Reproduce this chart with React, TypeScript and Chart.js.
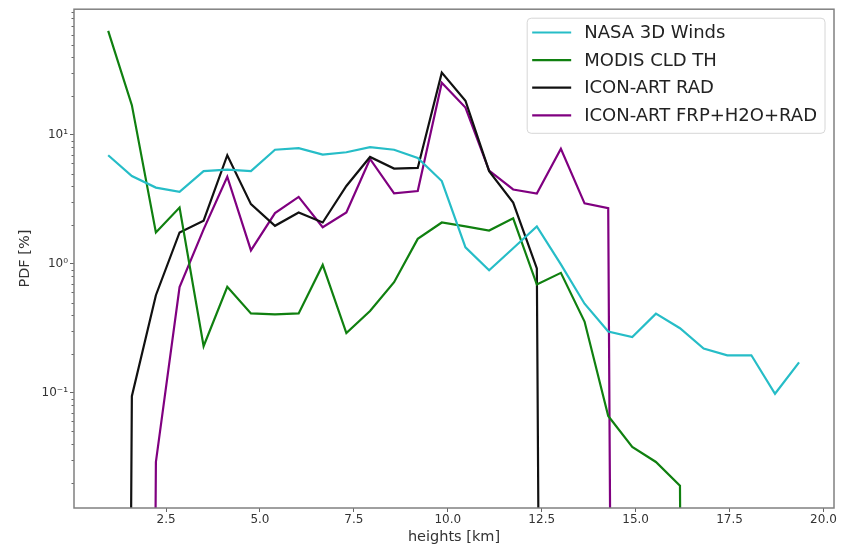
import { useEffect, useRef } from 'react';
import { Chart, registerables } from 'chart.js';

Chart.register(...registerables);

// bin centres (km)
const heights = [
  0.96, 1.59, 2.23, 2.86, 3.5, 4.13, 4.76, 5.4, 6.03, 6.67,
  7.3, 7.93, 8.57, 9.2, 9.84, 10.47, 11.1, 11.74, 12.37, 13.01,
  13.64, 14.27, 14.91, 15.54, 16.18, 16.81, 17.44, 18.08, 18.71, 19.35,
];

const nasa3dWinds = [
  6.95, 4.8, 3.9, 3.62, 5.23, 5.38, 5.23, 7.67, 7.9, 7.02,
  7.33, 8.04, 7.67, 6.62, 4.38, 1.34, 0.89, 1.32, 1.95, 0.99,
  0.49, 0.298, 0.27, 0.41, 0.316, 0.22, 0.195, 0.195, 0.098, 0.172,
];

const modisCldTh = [
  64, 17.0, 1.75, 2.73, 0.229, 0.662, 0.412, 0.405, 0.412, 0.98,
  0.29, 0.43, 0.72, 1.56, 2.09, 1.95, 1.81, 2.25, 0.69, 0.85,
  0.356, 0.066, 0.038, 0.029, 0.019, 0, 0, 0, 0, 0,
];

const iconArtRad = [
  0, 0.094, 0.57, 1.75, 2.16, 6.95, 2.9, 1.97, 2.5, 2.09,
  4.01, 6.74, 5.48, 5.54, 30.4, 18.4, 5.23, 2.98, 0.92, 0,
  0, 0, 0, 0, 0, 0, 0, 0, 0, 0,
];

const iconArtFrpH2oRad = [
  0, 0, 0.029, 0.66, 1.85, 4.73, 1.27, 2.47, 3.3, 1.92,
  2.5, 6.5, 3.52, 3.67, 25.4, 16.3, 5.28, 3.77, 3.5, 7.8,
  2.94, 2.7, 0, 0, 0, 0, 0, 0, 0, 0,
];

const seriesLabels = ['NASA 3D Winds', 'MODIS CLD TH', 'ICON-ART RAD', 'ICON-ART FRP+H2O+RAD'];
const seriesColors = ['#26bdc7', '#108010', '#111111', '#800080'];

const xTicks = [2.5, 5.0, 7.5, 10.0, 12.5, 15.0, 17.5, 20.0];
const yTicks = [0.1, 1, 10];
const yTickLabels = ['10\u207B\u00B9', '10\u2070', '10\u00B9'];

const FONT = "'DejaVu Sans', sans-serif";

// matplotlib clips non-positive values on a log axis far below the view
const clipNonPositive = (v: number) => (v > 0 ? v : 1e-30);

const frameAndMinorTicks = {
  id: 'frameAndMinorTicks',
  afterDatasetsDraw(chart: any) {
    const { ctx, chartArea } = chart;
    const ys = chart.scales.y;
    ctx.save();
    // minor ticks on log axis
    ctx.strokeStyle = '#666';
    ctx.lineWidth = 1;
    for (let k = -2; k <= 2; k++) {
      for (let m = 2; m <= 9; m++) {
        const v = m * Math.pow(10, k);
        if (v < ys.min || v > ys.max) continue;
        const py = Math.round(ys.getPixelForValue(v)) + 0.5;
        ctx.beginPath();
        ctx.moveTo(chartArea.left - 2.5, py);
        ctx.lineTo(chartArea.left, py);
        ctx.stroke();
      }
    }
    // frame
    ctx.strokeStyle = '#808080';
    ctx.lineWidth = 1.5;
    ctx.strokeRect(chartArea.left, chartArea.top, chartArea.right - chartArea.left, chartArea.bottom - chartArea.top);
    ctx.restore();
  },
};

const boxLegend = {
  id: 'boxLegend',
  afterDraw(chart: any) {
    const { ctx, chartArea } = chart;
    const ds = chart.data.datasets;
    ctx.save();
    ctx.font = `18px ${FONT}`;
    let maxW = 0;
    ds.forEach((d: any) => {
      maxW = Math.max(maxW, ctx.measureText(d.label).width);
    });
    const padL = 5, sample = 39, gap = 13, padR = 8;
    const rowH = 27.6;
    const w = padL + sample + gap + maxW + padR;
    const h = 14.3 + rowH * (ds.length - 1) + 18;
    const right = chartArea.right - 9;
    const left = right - w;
    const top = chartArea.top + 9;
    const r = 4;
    ctx.beginPath();
    ctx.moveTo(left + r, top);
    ctx.lineTo(right - r, top);
    ctx.arcTo(right, top, right, top + r, r);
    ctx.lineTo(right, top + h - r);
    ctx.arcTo(right, top + h, right - r, top + h, r);
    ctx.lineTo(left + r, top + h);
    ctx.arcTo(left, top + h, left, top + h - r, r);
    ctx.lineTo(left, top + r);
    ctx.arcTo(left, top, left + r, top, r);
    ctx.closePath();
    ctx.fillStyle = 'rgba(255,255,255,0.8)';
    ctx.fill();
    ctx.strokeStyle = '#d6d6d6';
    ctx.lineWidth = 1;
    ctx.stroke();
    ds.forEach((d: any, i: number) => {
      const cy = top + 14.3 + i * rowH;
      ctx.strokeStyle = d.borderColor;
      ctx.lineWidth = 2.2;
      ctx.beginPath();
      ctx.moveTo(left + padL, cy);
      ctx.lineTo(left + padL + sample, cy);
      ctx.stroke();
      ctx.fillStyle = '#222';
      ctx.textAlign = 'left';
      ctx.textBaseline = 'middle';
      ctx.fillText(d.label, left + padL + sample + gap, cy + 1);
    });
    ctx.restore();
  },
};

export default function App() {
  const ref = useRef<HTMLCanvasElement | null>(null);

  useEffect(() => {
    if (!ref.current) return;
    const all = [nasa3dWinds, modisCldTh, iconArtRad, iconArtFrpH2oRad];
    const chart = new Chart(ref.current, {
      type: 'line',
      data: {
        datasets: all.map((vals, si) => ({
          label: seriesLabels[si],
          data: heights.map((h, i) => ({ x: h, y: clipNonPositive(vals[i]) })),
          borderColor: seriesColors[si],
          backgroundColor: seriesColors[si],
          borderWidth: 2.2,
          pointRadius: 0,
          tension: 0,
          fill: false,
        })),
      },
      options: {
        animation: false,
        responsive: false,
        events: [],
        layout: { padding: { left: 0, right: 10, top: 5, bottom: 0 } },
        plugins: {
          legend: { display: false },
          tooltip: { enabled: false },
        },
        scales: {
          x: {
            type: 'linear',
            min: 0.05,
            max: 20.28,
            afterBuildTicks: (s: any) => {
              s.ticks = xTicks.map((v) => ({ value: v }));
            },
            afterFit: (s: any) => {
              s.height = 38;
            },
            ticks: {
              callback: (v: any) => Number(v).toFixed(1),
              font: { family: FONT, size: 12 },
              color: '#333',
              maxRotation: 0,
              autoSkip: false,
              padding: 1,
            },
            grid: { drawOnChartArea: false, drawTicks: true, tickLength: 4, color: '#666', lineWidth: 1 },
            border: { display: false },
            title: {
              display: true,
              text: 'heights [km]',
              font: { family: FONT, size: 14.5 },
              color: '#333',
              padding: { top: 0.5, bottom: 0 },
            },
          },
          y: {
            type: 'logarithmic',
            min: 0.01274,
            max: 94.4,
            afterBuildTicks: (s: any) => {
              s.ticks = yTicks.map((v) => ({ value: v }));
            },
            afterFit: (s: any) => {
              s.width = 74;
            },
            ticks: {
              callback: (v: any) => {
                const idx = yTicks.indexOf(Number(v));
                return idx >= 0 ? yTickLabels[idx] : '';
              },
              font: { family: FONT, size: 12 },
              color: '#333',
              autoSkip: false,
              padding: 2,
            },
            grid: { drawOnChartArea: false, drawTicks: true, tickLength: 4, color: '#666', lineWidth: 1 },
            border: { display: false },
            title: {
              display: true,
              text: 'PDF [%]',
              font: { family: FONT, size: 14.5 },
              color: '#333',
              padding: { top: 17, bottom: 0 },
            },
          },
        },
      } as any,
      plugins: [frameAndMinorTicks, boxLegend],
    });
    return () => chart.destroy();
  }, []);

  return (
    <div style={{ position: 'absolute', left: 0, top: 0, width: 844, height: 546, background: '#fff' }}>
      <canvas ref={ref} width={844} height={546} style={{ display: 'block' }} />
    </div>
  );
}
